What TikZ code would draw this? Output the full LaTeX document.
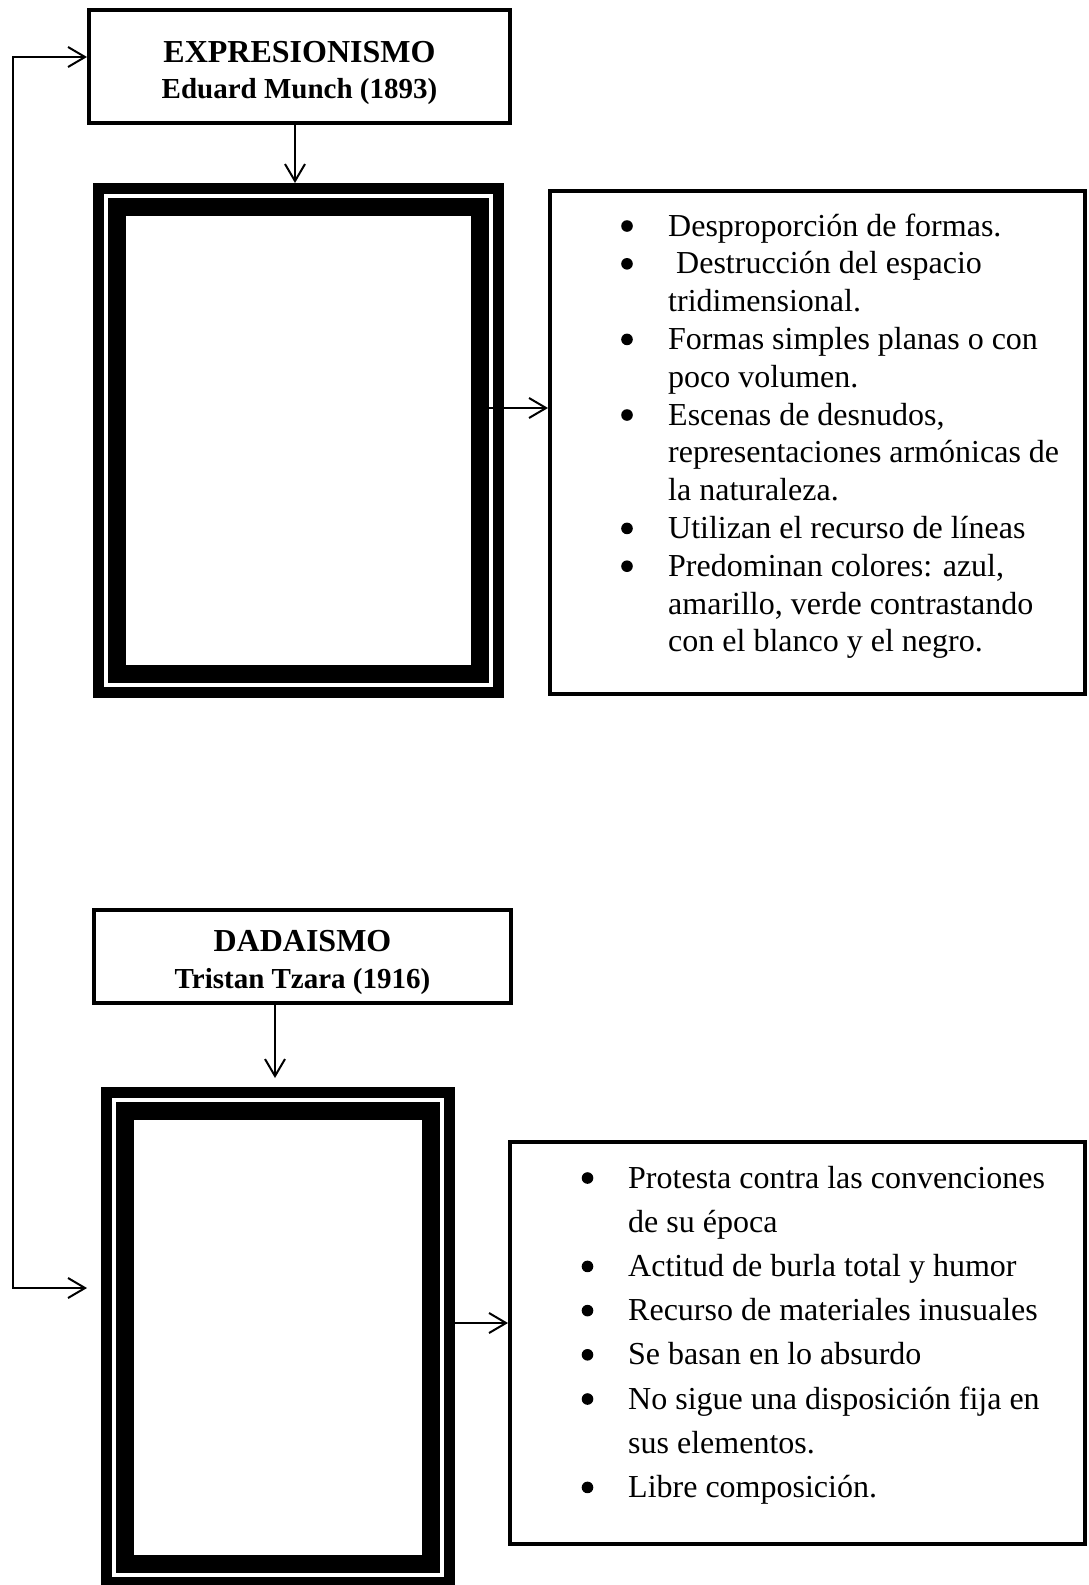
\documentclass[tikz,border=0pt]{standalone}
\usepackage{fontspec}
\setmainfont{Liberation Serif}
\usetikzlibrary{arrows.meta}
\newcommand{\titulo}[2]{\raisebox{-6.5pt}[\height][\depth]{%
  \begin{tabular}{@{}c@{}}#1\\{\fontsize{29}{36.5}\selectfont #2}\end{tabular}}}
\tikzset{
  >={Straight Barb[length=17pt,width=20pt]},
  flecha/.style={line width=2pt,->},
  cabecera/.style={draw,line width=4pt,font=\bfseries\fontsize{32}{36.5}\selectfont},
  marco/.style={fill=black,inner sep=0pt,outer sep=0pt},
  cuadro/.style={draw,line width=4pt},
  lista/.style={anchor=base west,inner sep=0pt},
}
\begin{document}
\begin{tikzpicture}[x=1pt,y=-1pt]
  \useasboundingbox (0,0) rectangle (1088,1585);

  % cabeceras
  \node[cabecera,minimum width=421pt,minimum height=113pt] (h1) at (299.5,66.5)
    {\titulo{EXPRESIONISMO}{Eduard Munch (1893)}};
  \node[cabecera,minimum width=417pt,minimum height=93pt] (h2) at (302.5,956)
    {\titulo{DADAISMO}{Tristan Tzara (1916)}};

  % marcos
  \node[marco,minimum width=411pt,minimum height=515pt] (f1) at (298.5,440.5) {};
  \node[marco,minimum width=354pt,minimum height=501pt] (f2) at (278,1337.5) {};
  \foreach \f in {f1,f2}
    \foreach \d/\c in {11pt/white,15pt/black,33pt/white}
      \fill[\c] ([shift={(\d,-\d)}]\f.north west) rectangle ([shift={(-\d,\d)}]\f.south east);

  % cuadros de texto
  \node[cuadro,minimum width=535pt,minimum height=503pt] (t1) at (817.5,442.5) {};
  \node[cuadro,minimum width=575pt,minimum height=402pt] (t2) at (797.5,1343) {};

  \node[lista,font=\fontsize{32}{37.8}\selectfont] (l1) at (668,236) {%
    \begin{tabular}[t]{@{}l@{}}
      Desproporción de formas.\\
      \ Destrucción del espacio\\
      tridimensional.\\
      Formas simples planas o con\\
      poco volumen.\\
      Escenas de desnudos,\\
      representaciones armónicas de\\
      la naturaleza.\\
      Utilizan el recurso de líneas\\
      Predominan colores: azul,\\
      amarillo, verde contrastando\\
      con el blanco y el negro.
    \end{tabular}};
  \node[lista,font=\fontsize{32}{44.2}\selectfont] (l2) at (628,1188) {%
    \begin{tabular}[t]{@{}l@{}}
      Protesta contra las convenciones\\
      de su época\\
      Actitud de burla total y humor\\
      Recurso de materiales inusuales\\
      Se basan en lo absurdo\\
      No sigue una disposición fija en\\
      sus elementos.\\
      Libre composición.
    \end{tabular}};

  % vinetas
  \foreach \i in {0,1,3,5,8,9}
    \fill (627,226+37.8*\i) circle (5.8pt);
  \foreach \i in {0,2,3,4,5,7}
    \fill (587.5,1178+44.2*\i) circle (5.8pt);

  % flechas
  \coordinate (izq) at (13,0);
  \coordinate (e1) at ([yshift=9.5pt]h1.west);
  \coordinate (e2) at ([xshift=-14pt,yshift=49.5pt]f2.west);
  \draw[flecha,<->] (e1) -- (e1 -| izq) |- (e2);

  \draw[flecha] ([xshift=-4.5pt]h1.south) -- ([xshift=-4.5pt]h1.south |- f1.north);
  \draw[flecha] ([xshift=-3pt]f2.north |- h2.south) -- ([xshift=-3pt,yshift=9pt]f2.north);
  \draw[flecha] ([xshift=-15pt,yshift=32.5pt]f1.east) -- ([yshift=32.5pt]f1.east -| t1.west);
  \draw[flecha] ([yshift=14.5pt]f2.east) -- ([yshift=14.5pt]f2.east -| t2.west);
\end{tikzpicture}
\end{document}
